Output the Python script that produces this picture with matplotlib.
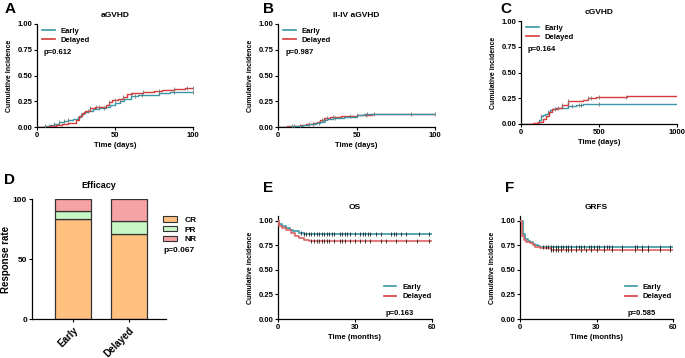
import matplotlib
matplotlib.use("Agg")
import matplotlib.pyplot as plt
from matplotlib.lines import Line2D
from matplotlib.patches import Patch

plt.rcParams['font.family'] = ['Liberation Sans', 'DejaVu Sans']
plt.rcParams['font.weight'] = 'bold'

TEAL = "#3a97a6"
RED = "#d63a3a"

# ---------------- data ----------------
# A: aGVHD (days)
a_early_t = [0, 5, 8, 11, 14, 17, 20, 23, 26, 28, 30, 33, 36, 40, 44, 47, 50, 53, 56, 60, 65, 70, 78, 85]
a_early_v = [0, 0.01, 0.02, 0.03, 0.045, 0.06, 0.07, 0.08, 0.10, 0.13, 0.15, 0.16, 0.175, 0.185, 0.195, 0.21, 0.235, 0.25, 0.27, 0.30, 0.31, 0.315, 0.33, 0.34]
a_early_c = [5, 11, 14, 17, 20, 33, 43, 53, 63, 67, 78, 88, 100]
a_del_t = [0, 8, 12, 16, 20, 23, 25, 27, 29, 31, 34, 37, 41, 44, 46, 48, 52, 55, 58, 61, 68, 75, 80, 88, 95]
a_del_v = [0, 0.01, 0.02, 0.03, 0.035, 0.04, 0.07, 0.11, 0.14, 0.16, 0.18, 0.19, 0.195, 0.21, 0.24, 0.26, 0.27, 0.29, 0.32, 0.33, 0.34, 0.35, 0.36, 0.37, 0.38]
a_del_c = [34, 38, 40, 46, 50, 55, 60, 68, 78, 88, 96, 100]

# B: II-IV aGVHD (days)
b_early_t = [0, 8, 12, 16, 20, 24, 27, 29, 31, 35, 42, 48, 50, 55]
b_early_v = [0, 0.005, 0.01, 0.02, 0.03, 0.04, 0.05, 0.07, 0.08, 0.09, 0.095, 0.10, 0.12, 0.13]
b_early_c = [10, 14, 22, 26, 30, 36, 50, 57, 85, 100]
b_del_t = [0, 6, 10, 14, 18, 22, 25, 27, 29, 33, 40, 50, 60]
b_del_v = [0, 0.005, 0.01, 0.02, 0.025, 0.035, 0.05, 0.07, 0.085, 0.10, 0.11, 0.12, 0.125]
b_del_c = [9, 20, 28, 31, 35, 46, 56, 61]

# C: cGVHD (days)
c_early_t = [0, 100, 115, 125, 140, 155, 170, 185, 200, 215, 250, 300, 350, 400]
c_early_v = [0, 0.01, 0.04, 0.08, 0.09, 0.10, 0.12, 0.14, 0.15, 0.155, 0.16, 0.17, 0.18, 0.19]
c_early_c = [130, 170, 240, 330, 370, 385, 500]
c_del_t = [0, 80, 110, 140, 160, 180, 200, 230, 260, 300, 400, 430, 480, 560, 680]
c_del_v = [0, 0.01, 0.02, 0.05, 0.08, 0.12, 0.15, 0.16, 0.18, 0.22, 0.23, 0.25, 0.26, 0.265, 0.275]
c_del_c = [220, 260, 300, 430, 450, 500, 670]

# D: efficacy (%)
groups = ["Early", "Delayed"]
cr = [83, 71]
pr = [7, 11]
nr = [10, 18]

# E: OS (months)
e_early_t = [0, 0.5, 1.5, 3, 4.5, 6, 8, 10]
e_early_v = [1, 0.97, 0.95, 0.93, 0.91, 0.895, 0.88, 0.865]
e_early_c = [9, 10, 11, 12, 13, 14, 15, 16, 17, 18, 19, 20, 21, 22, 24, 25, 26, 27, 28, 30, 32, 33, 34, 35,
             36, 38, 40, 44, 45, 46, 48, 50, 55, 59]
e_del_t = [0, 0.5, 1.5, 3, 5, 6.5, 8, 10, 12]
e_del_v = [1, 0.95, 0.925, 0.91, 0.88, 0.845, 0.825, 0.81, 0.80]
e_del_c = [13, 14, 15, 16, 17, 18, 19, 20, 22, 24, 25, 26, 28, 30, 32, 34, 36, 40, 42, 46, 50, 54, 59]

# F: GRFS (months)
f_early_t = [0, 1, 2, 3, 4, 5, 6, 7, 8]
f_early_v = [1, 0.87, 0.82, 0.80, 0.78, 0.765, 0.75, 0.74, 0.735]
f_early_c = [9, 10, 11, 12, 13, 14, 15, 16, 17, 18, 19, 20, 22, 23, 24, 25, 27, 28, 29, 30, 31, 33, 34, 35,
             36, 40, 45, 46, 48, 50, 55, 59]
f_del_t = [0, 0.8, 1.5, 2.5, 4, 5, 6, 8, 12]
f_del_v = [1, 0.85, 0.81, 0.79, 0.77, 0.75, 0.735, 0.72, 0.705]
f_del_c = [12, 13, 14, 15, 16, 18, 19, 20, 22, 24, 26, 28, 30, 33, 36, 40, 45, 48, 50, 55, 59]

W, H = 685, 358
fig = plt.figure(figsize=(W / 100, H / 100), dpi=100)


def rect(x0, x1, yt, yb):
    return [x0 / W, 1 - yb / H, (x1 - x0) / W, (yb - yt) / H]


def val_at(t, v, x):
    r = v[0]
    for ti, vi in zip(t, v):
        if ti <= x:
            r = vi
    return r


def km(ax, t, v, c, xmax, color, tickcol, lw=1.0):
    tt = list(t) + [xmax]
    vv = list(v) + [v[-1]]
    ax.step(tt, vv, where='post', color=color, lw=lw, zorder=3)
    cy = [val_at(t, v, x) for x in c]
    ax.plot(c, cy, ls='none', marker='|', markersize=2.8, mew=0.6, color=tickcol, zorder=4)


def style(ax, xmax, xticks, ymax, xlabel, ylabel, title):
    ax.set_xlim(0, xmax)
    ax.set_ylim(0, ymax)
    ax.set_xticks(xticks)
    ax.set_yticks([0, 0.25, 0.5, 0.75, 1.0])
    ax.set_yticklabels(["0.00", "0.25", "0.50", "0.75", "1.00"])
    for s in ['top', 'right']:
        ax.spines[s].set_visible(False)
    for s in ['left', 'bottom']:
        ax.spines[s].set_linewidth(0.9)
    ax.tick_params(labelsize=5.5, width=0.8, length=2.5, pad=1)
    for lab in ax.get_xticklabels() + ax.get_yticklabels():
        lab.set_fontweight('bold')
    ax.set_xlabel(xlabel, fontsize=5.5, fontweight='bold', labelpad=2)
    ax.set_ylabel(ylabel, fontsize=5, fontweight='bold', labelpad=3)
    ax.set_title(title, fontsize=6, fontweight='bold', pad=5)


handles = [Line2D([0], [0], color=TEAL, lw=1.2), Line2D([0], [0], color=RED, lw=1.2)]


def legend_ul(ax, ptext):
    ax.legend(handles, ["Early", "Delayed"], loc='upper left', bbox_to_anchor=(0.0, 1.02),
              frameon=False, handlelength=1.6, handletextpad=0.8,
              labelspacing=0.25, borderaxespad=0.3, prop={'weight': 'bold', 'size': 5.5})
    ax.text(0.045, 0.76, ptext, transform=ax.transAxes, fontsize=5.5, fontweight='bold', va='top')


def legend_lr(ax, ptext):
    ax.legend(handles, ["Early", "Delayed"], loc='lower right', bbox_to_anchor=(1.03, 0.13),
              frameon=False, handlelength=1.6, handletextpad=0.8,
              labelspacing=0.25, borderaxespad=0.3, prop={'weight': 'bold', 'size': 5.5})
    ax.text(0.7, 0.09, ptext, transform=ax.transAxes, fontsize=5.5, fontweight='bold', va='top')


# A
axA = fig.add_axes(rect(37, 193, 24, 127))
km(axA, a_early_t, a_early_v, a_early_c, 100, TEAL, "#777777")
km(axA, a_del_t, a_del_v, a_del_c, 100, RED, "#777777")
style(axA, 100, [0, 50, 100], 1.0, "Time (days)", "Cumulative Incidence", "aGVHD")
legend_ul(axA, "p=0.612")

# B
axB = fig.add_axes(rect(278, 435, 24, 127))
km(axB, b_del_t, b_del_v, b_del_c, 100, RED, "#777777")
km(axB, b_early_t, b_early_v, b_early_c, 100, TEAL, "#777777")
style(axB, 100, [0, 50, 100], 1.0, "Time (days)", "Cumulative incidence", "II-IV aGVHD")
legend_ul(axB, "p=0.987")

# C
axC = fig.add_axes(rect(521, 677, 21, 124))
km(axC, c_early_t, c_early_v, c_early_c, 1000, TEAL, "#777777")
km(axC, c_del_t, c_del_v, c_del_c, 1000, RED, "#777777")
style(axC, 1000, [0, 500, 1000], 1.0, "Time (days)", "Cumulative incidence", "cGVHD")
legend_ul(axC, "p=0.164")

# D
axD = fig.add_axes(rect(32, 166, 199, 319))
x = [0, 1]
CRc, PRc, NRc = "#ffc080", "#c8f7c5", "#f7a3a6"
bw = 0.64
axD.bar(x, cr, width=bw, color=CRc, edgecolor="#333333", lw=0.9)
axD.bar(x, pr, width=bw, bottom=cr, color=PRc, edgecolor="#333333", lw=0.9)
axD.bar(x, nr, width=bw, bottom=[a + b for a, b in zip(cr, pr)], color=NRc, edgecolor="#333333", lw=0.9)
axD.set_xlim(-0.732, 1.66)
axD.set_ylim(0, 100)
axD.set_yticks([0, 50, 100])
axD.set_xticks(x)
axD.set_xticklabels(groups, rotation=45, ha='right', rotation_mode='anchor', fontsize=7, fontweight='bold')
for s in ['top', 'right']:
    axD.spines[s].set_visible(False)
for s in ['left', 'bottom']:
    axD.spines[s].set_linewidth(0.9)
axD.tick_params(axis='y', labelsize=6, width=0.8, length=2.5, pad=1)
axD.tick_params(axis='x', width=0.8, length=2.5, pad=2)
for lab in axD.get_yticklabels():
    lab.set_fontweight('bold')
axD.set_ylabel("Response rate", fontsize=7, fontweight='bold', labelpad=1)
axD.set_title("Efficacy", fontsize=6.5, fontweight='bold', pad=8)
ph = [Patch(facecolor=CRc, edgecolor="#333333", lw=0.8),
      Patch(facecolor=PRc, edgecolor="#333333", lw=0.8),
      Patch(facecolor=NRc, edgecolor="#333333", lw=0.8)]
axD.legend(ph, ["CR", "PR", "NR"], loc='upper left', bbox_to_anchor=(160 / W, 1 - 213 / H),
           bbox_transform=fig.transFigure, frameon=False, handlelength=1.6, handleheight=0.6,
           handletextpad=0.9, labelspacing=0.25, borderaxespad=0,
           prop={'weight': 'bold', 'size': 6})
fig.text(163 / W, 1 - 250 / H, "p=0.067", fontsize=6, fontweight='bold', va='center')

# E
axE = fig.add_axes(rect(278, 432, 216, 319))
km(axE, e_early_t, e_early_v, e_early_c, 60, TEAL, "#222222", lw=1.2)
km(axE, e_del_t, e_del_v, e_del_c, 60, "#dc6464", "#222222", lw=1.2)
style(axE, 60, [0, 30, 60], 1.05, "Time (months)", "Cumulative incidence", "OS")
legend_lr(axE, "p=0.163")

# F
axF = fig.add_axes(rect(520, 673, 216, 319))
km(axF, f_early_t, f_early_v, f_early_c, 60, TEAL, "#222222", lw=1.2)
km(axF, f_del_t, f_del_v, f_del_c, 60, "#dc6464", "#222222", lw=1.2)
style(axF, 60, [0, 30, 60], 1.05, "Time (months)", "Cumulative incidence", "GRFS")
legend_lr(axF, "p=0.585")

# panel letters
for lab, px, py in [("A", 5, 9), ("B", 263, 9), ("C", 500, 9), ("D", 4, 180), ("E", 263, 188), ("F", 505, 188)]:
    fig.text(px / W, 1 - py / H, lab, fontsize=11, fontweight='bold', va='center', ha='left')

fig.savefig("out.png", dpi=100)
